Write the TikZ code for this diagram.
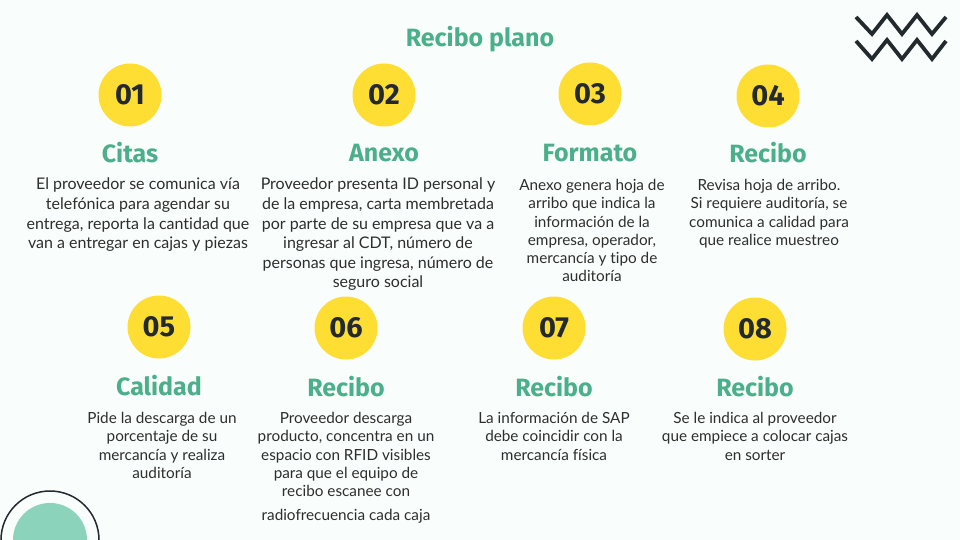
\documentclass[tikz,border=0pt]{standalone}
\usepackage{fontspec}
\setmainfont{Lato}[Ligatures=NoCommon]
\newfontfamily\headfont{Fira Sans}
\definecolor{bgc}{HTML}{F9FDFC}
\definecolor{greenc}{HTML}{4AAF8A}
\definecolor{yel}{HTML}{FFDE34}
\definecolor{darkc}{HTML}{222A2E}
\definecolor{txtc}{HTML}{2E2E2E}
\definecolor{mint}{HTML}{8BD3BA}
\begin{document}
\begin{tikzpicture}[x=1pt,y=-1pt,
  numcirc/.style={circle,fill=yel,minimum size=63pt,inner sep=0pt,text=darkc,font=\headfont\bfseries\fontsize{29}{30}\selectfont},
  headtxt/.style={text=greenc,inner sep=0pt,font=\headfont\bfseries\fontsize{25}{27}\selectfont},
  bodytxt/.style={text=txtc,inner sep=0pt,anchor=north,align=center,font=\fontsize{15.3}{18.3}\selectfont},
  bodywide/.style={bodytxt,font=\fontsize{16}{19.6}\selectfont}]
\fill[bgc] (0,0) rectangle (960,540);
\useasboundingbox (0,0) rectangle (960,540);
% title
\node[text=greenc,inner sep=0pt,font=\headfont\bfseries\fontsize{25}{27}\selectfont] (title) at (480,39) {Recibo plano};
% zigzag
\draw[darkc,line width=3.8pt,miter limit=10] (856,17) -- (872,34) -- (887,15) -- (902,34) -- (917,15) -- (932,34) -- (946,17);
\draw[darkc,line width=3.8pt,miter limit=10] (856,41) -- (872,59) -- (887,40) -- (902,59) -- (917,40) -- (932,59) -- (946,41);
% bottom-left decoration
\begin{scope}
\clip (0,0) rectangle (960,540);
\fill[mint] (50,540) circle (37);
\draw[darkc,line width=1.5pt] (50,540) circle (49);
\end{scope}
% row 1
\node[numcirc] (n1) at (130,95) {01};
\node[numcirc] (n2) at (384,95) {02};
\node[numcirc] (n3) at (590,94) {03};
\node[numcirc] (n4) at (768,96) {04};
\node[headtxt] (h1) at (130,153) {Citas};
\node[headtxt] (h2) at (384,153) {Anexo};
\node[headtxt] (h3) at (590,153) {Formato};
\node[headtxt] (h4) at (768,153) {Recibo};
\node[bodywide] (b1) at (138,178) {El proveedor se comunica vía\\telefónica para agendar su\\entrega, reporta la cantidad que\\van a entregar en cajas y piezas};
\node[bodywide] (b2) at (378,178) {Proveedor presenta ID personal y\\de la empresa, carta membretada\\por parte de su empresa que va a\\ingresar al CDT, número de\\personas que ingresa, número de\\seguro social};
\node[bodytxt] (b3) at (592,179) {Anexo genera hoja de\\arribo que indica la\\información de la\\empresa, operador,\\mercancía y tipo de\\auditoría};
\node[bodytxt] (b4) at (769,179) {Revisa hoja de arribo.\\Si requiere auditoría, se\\comunica a calidad para\\que realice muestreo};
% row 2
\node[numcirc] (n5) at (159,327) {05};
\node[numcirc] (n6) at (346,328) {06};
\node[numcirc] (n7) at (554,328) {07};
\node[numcirc] (n8) at (755,329) {08};
\node[headtxt] (h5) at (159,386) {Calidad};
\node[headtxt] (h6) at (346,387) {Recibo};
\node[headtxt] (h7) at (554,387) {Recibo};
\node[headtxt] (h8) at (755,387) {Recibo};
\node[bodytxt] (b5) at (162,412) {Pide la descarga de un\\porcentaje de su\\mercancía y realiza\\auditoría};
\node[bodytxt] (b6) at (346,412) {Proveedor descarga\\producto, concentra en un\\espacio con RFID visibles\\para que el equipo de\\recibo escanee con\\[5.5pt]radiofrecuencia cada caja};
\node[bodytxt] (b7) at (554,412) {La información de SAP\\debe coincidir con la\\mercancía física};
\node[bodytxt] (b8) at (755,412) {Se le indica al proveedor\\que empiece a colocar cajas\\en sorter};
\end{tikzpicture}
\end{document}
